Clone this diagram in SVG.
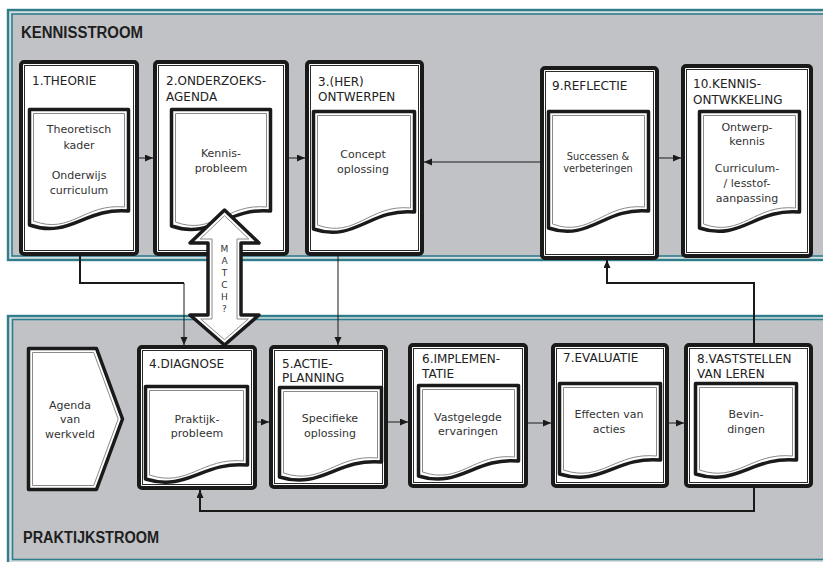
<svg xmlns="http://www.w3.org/2000/svg" width="823" height="562" viewBox="0 0 823 562">
  <defs>
    <style>
      .panel-outer { fill: #d6dde0; stroke: #2f7d8b; stroke-width: 2.4; }
      .panel-inner { fill: #c1c2c6; stroke: #2f7d8b; stroke-width: 1.6; }
      .stream { font-family: "Liberation Sans", Arial, sans-serif; font-weight: bold; font-size: 16px; fill: #1e1e1e; }
      .box { fill: #ffffff; stroke: #1a1a1a; stroke-width: 4; }
      .box-in { fill: none; stroke: #2a2a2a; stroke-width: 1; }
      .doc { fill: #ffffff; stroke: #1a1a1a; stroke-width: 3.5; stroke-linejoin: round; }
      .doc-in { fill: none; stroke: #8a8a8a; stroke-width: 1; }
      .title { font-family: "DejaVu Sans", Verdana, sans-serif; font-size: 12px; fill: #222; }
      .body { font-family: "DejaVu Sans", Verdana, sans-serif; font-size: 11px; fill: #333; text-anchor: middle; }
      .small { font-size: 9.8px; }
      .thin { fill: none; stroke: #1a1a1a; stroke-width: 1; }
      .thick { fill: none; stroke: #1a1a1a; stroke-width: 2; }
      .match { font-family: "DejaVu Sans", Verdana, sans-serif; font-size: 9px; fill: #333; text-anchor: middle; }
    </style>
    <marker id="arrow" markerUnits="userSpaceOnUse" markerWidth="9" markerHeight="8" refX="8" refY="3.5" orient="auto">
      <path d="M0,0 L8,3.5 L0,7 Z" fill="#1a1a1a"/>
    </marker>
  </defs>

  <!-- stream panels -->
  <g id="kennisstroom">
    <rect class="panel-outer" x="8" y="10" width="840" height="250"/>
    <rect class="panel-inner" x="12" y="14" width="840" height="242"/>
    <text class="stream" x="21" y="38" textLength="122" lengthAdjust="spacingAndGlyphs">KENNISSTROOM</text>
  </g>
  <g id="praktijkstroom">
    <rect class="panel-outer" x="8" y="316" width="840" height="260"/>
    <rect class="panel-inner" x="12.5" y="319.5" width="840" height="240"/>
    <text class="stream" x="23" y="543" textLength="136" lengthAdjust="spacingAndGlyphs">PRAKTIJKSTROOM</text>
  </g>

  <!-- top row -->
  <g id="n1">
    <rect class="box" x="21" y="62" width="116" height="192" rx="3"/>
    <rect class="box-in" x="24.5" y="65.5" width="109" height="185"/>
    <text class="title" x="32" y="85">1.THEORIE</text>
    <path class="doc" d="M29.5,109.5 H128.5 V211 C84.9,207 70.1,239 29.5,225 Z"/>
    <path class="doc-in" d="M33.5,113.5 H124.5 V207 C84.5,203 70.8,235 33.5,221 Z"/>
    <text class="body" x="79" y="133">Theoretisch</text>
    <text class="body" x="79" y="149">kader</text>
    <text class="body" x="79" y="179">Onderwijs</text>
    <text class="body" x="79" y="194">curriculum</text>
  </g>
  <g id="n2">
    <rect class="box" x="155" y="62" width="132" height="192" rx="3"/>
    <rect class="box-in" x="158.5" y="65.5" width="125" height="185"/>
    <text class="title" x="166" y="85">2.ONDERZOEKS-</text>
    <text class="title" x="166" y="101">AGENDA</text>
    <path class="doc" d="M171.5,109.5 H270.5 V211 C226.9,207 212.1,240 171.5,226 Z"/>
    <path class="doc-in" d="M175.5,113.5 H266.5 V207 C226.5,203 212.8,236 175.5,222 Z"/>
    <text class="body" x="221" y="157">Kennis-</text>
    <text class="body" x="221" y="172">probleem</text>
  </g>
  <g id="n3">
    <rect class="box" x="307" y="62" width="115" height="192" rx="3"/>
    <rect class="box-in" x="310.5" y="65.5" width="108" height="185"/>
    <text class="title" x="318" y="86">3.(HER)</text>
    <text class="title" x="318" y="101">ONTWERPEN</text>
    <path class="doc" d="M313.5,111.5 H414.5 V212 C370.1,208 354.9,243 313.5,229 Z"/>
    <path class="doc-in" d="M317.5,115.5 H410.5 V208 C369.6,204 355.6,239 317.5,225 Z"/>
    <text class="body" x="363" y="158">Concept</text>
    <text class="body" x="363" y="173">oplossing</text>
  </g>
  <g id="n9">
    <rect class="box" x="542" y="68" width="115" height="190" rx="3"/>
    <rect class="box-in" x="545.5" y="71.5" width="108" height="183"/>
    <text class="title" x="552" y="90">9.REFLECTIE</text>
    <path class="doc" d="M548.5,111.5 H648.5 V211 C604.5,207 589.5,242 548.5,228 Z"/>
    <path class="doc-in" d="M552.5,115.5 H644.5 V207 C604,203 590.2,238 552.5,224 Z"/>
    <text class="body small" x="598" y="159.5">Successen &amp;</text>
    <text class="body small" x="598" y="172">verbeteringen</text>
  </g>
  <g id="n10">
    <rect class="box" x="683" y="66" width="128" height="190" rx="3"/>
    <rect class="box-in" x="686.5" y="69.5" width="121" height="183"/>
    <text class="title" x="693" y="88">10.KENNIS-</text>
    <text class="title" x="693" y="104">ONTWKKELING</text>
    <path class="doc" d="M699.5,111.5 H799.5 V212 C755.5,208 740.5,242 699.5,228 Z"/>
    <path class="doc-in" d="M703.5,115.5 H795.5 V208 C755,204 741.2,238 703.5,224 Z"/>
    <text class="body" x="747" y="131">Ontwerp-</text>
    <text class="body" x="747" y="145">kennis</text>
    <text class="body" x="747" y="172">Curriculum-</text>
    <text class="body" x="747" y="187">/ lesstof-</text>
    <text class="body" x="747" y="202">aanpassing</text>
  </g>

  <!-- bottom row -->
  <g id="agenda">
    <path class="doc" d="M28.5,348.5 H96.5 L122.5,419 L96.5,489.5 H28.5 Z"/>
    <path class="doc-in" d="M32.5,352.5 H93.7 L118.2,419 L93.7,485.5 H32.5 Z"/>
    <text class="body" x="70" y="409">Agenda</text>
    <text class="body" x="70" y="423">van</text>
    <text class="body" x="70" y="438">werkveld</text>
  </g>
  <g id="n4">
    <rect class="box" x="139" y="347" width="116" height="141" rx="3"/>
    <rect class="box-in" x="142.5" y="350.5" width="109" height="134"/>
    <text class="title" x="149" y="368">4.DIAGNOSE</text>
    <path class="doc" d="M145.5,386.5 H247.5 V465 C202.6,461 187.3,492 145.5,479 Z"/>
    <path class="doc-in" d="M149.5,390.5 H243.5 V461 C202.1,457 188,488 149.5,475 Z"/>
    <text class="body" x="197" y="423">Praktijk-</text>
    <text class="body" x="197" y="437">probleem</text>
  </g>
  <g id="n5">
    <rect class="box" x="271" y="347" width="115" height="140" rx="3"/>
    <rect class="box-in" x="274.5" y="350.5" width="108" height="133"/>
    <text class="title" x="282" y="368">5.ACTIE-</text>
    <text class="title" x="282" y="382">PLANNING</text>
    <path class="doc" d="M279.5,387.5 H381.5 V462 C336.6,458 321.3,490 279.5,477 Z"/>
    <path class="doc-in" d="M283.5,391.5 H377.5 V458 C336.1,454 322,486 283.5,473 Z"/>
    <text class="body" x="330" y="422">Specifieke</text>
    <text class="body" x="330" y="437">oplossing</text>
  </g>
  <g id="n6">
    <rect class="box" x="410" y="345" width="116" height="141" rx="3"/>
    <rect class="box-in" x="413.5" y="348.5" width="109" height="134"/>
    <text class="title" x="422" y="363">6.IMPLEMEN-</text>
    <text class="title" x="422" y="378">TATIE</text>
    <path class="doc" d="M418.5,385.5 H518.5 V461 C474.5,457 459.5,489 418.5,476 Z"/>
    <path class="doc-in" d="M422.5,389.5 H514.5 V457 C474,453 460.2,485 422.5,472 Z"/>
    <text class="body" x="468" y="421">Vastgelegde</text>
    <text class="body" x="468" y="435">ervaringen</text>
  </g>
  <g id="n7">
    <rect class="box" x="553" y="345" width="114" height="141" rx="3"/>
    <rect class="box-in" x="556.5" y="348.5" width="107" height="134"/>
    <text class="title" x="563" y="362">7.EVALUATIE</text>
    <path class="doc" d="M559.5,383.5 H660.5 V460 C616.1,456 600.9,487 559.5,474 Z"/>
    <path class="doc-in" d="M563.5,387.5 H656.5 V456 C615.6,452 601.6,483 563.5,470 Z"/>
    <text class="body" x="609" y="418">Effecten van</text>
    <text class="body" x="609" y="433">acties</text>
  </g>
  <g id="n8">
    <rect class="box" x="686" y="345" width="125" height="141" rx="3"/>
    <rect class="box-in" x="689.5" y="348.5" width="118" height="134"/>
    <text class="title" x="697" y="363">8.VASTSTELLEN</text>
    <text class="title" x="697" y="378">VAN LEREN</text>
    <path class="doc" d="M695.5,383.5 H796.5 V460 C752.1,456 736.9,487 695.5,474 Z"/>
    <path class="doc-in" d="M699.5,387.5 H792.5 V456 C751.6,452 737.6,483 699.5,470 Z"/>
    <text class="body" x="746" y="418">Bevin-</text>
    <text class="body" x="746" y="433">dingen</text>
  </g>

  <!-- connectors -->
  <g id="connectors">
    <path class="thin" d="M139,158 H153" marker-end="url(#arrow)"/>
    <path class="thin" d="M289,158 H305" marker-end="url(#arrow)"/>
    <path class="thin" d="M540,162 H424" marker-end="url(#arrow)"/>
    <path class="thin" d="M659,158 H681" marker-end="url(#arrow)"/>
    <path class="thin" d="M257,422 H269" marker-end="url(#arrow)"/>
    <path class="thin" d="M388,422 H408" marker-end="url(#arrow)"/>
    <path class="thin" d="M528,423 H551" marker-end="url(#arrow)"/>
    <path class="thin" d="M669,423 H684" marker-end="url(#arrow)"/>
    <path class="thick" d="M80,256 V283 H184"/>
    <path class="thin" d="M184,283 V345" marker-end="url(#arrow)"/>
    <path class="thin" d="M338,256 V345" marker-end="url(#arrow)"/>
    <path class="thick" d="M754,343 V283 H607 V260" marker-end="url(#arrow)"/>
    <path class="thick" d="M754,488 V511 H200 V490" marker-end="url(#arrow)"/>
  </g>

  <!-- two-way "match" arrow between research agenda and diagnosis -->
  <g id="match">
    <path class="doc" d="M224.5,210 L259,243 H241 V315 H259 L224.5,345 L190,315 H208 V243 H190 Z"/>
    <path class="doc-in" d="M224.5,215.7 L248.8,239 H237 V319 H248.3 L224.5,339.7 L200.7,319 H212 V239 H200.2 Z"/>
    <text class="match" x="224.5" y="251.5">M</text>
    <text class="match" x="224.5" y="263.5">A</text>
    <text class="match" x="224.5" y="275.5">T</text>
    <text class="match" x="224.5" y="287.5">C</text>
    <text class="match" x="224.5" y="299.5">H</text>
    <text class="match" x="224.5" y="311.5">?</text>
  </g>
</svg>
